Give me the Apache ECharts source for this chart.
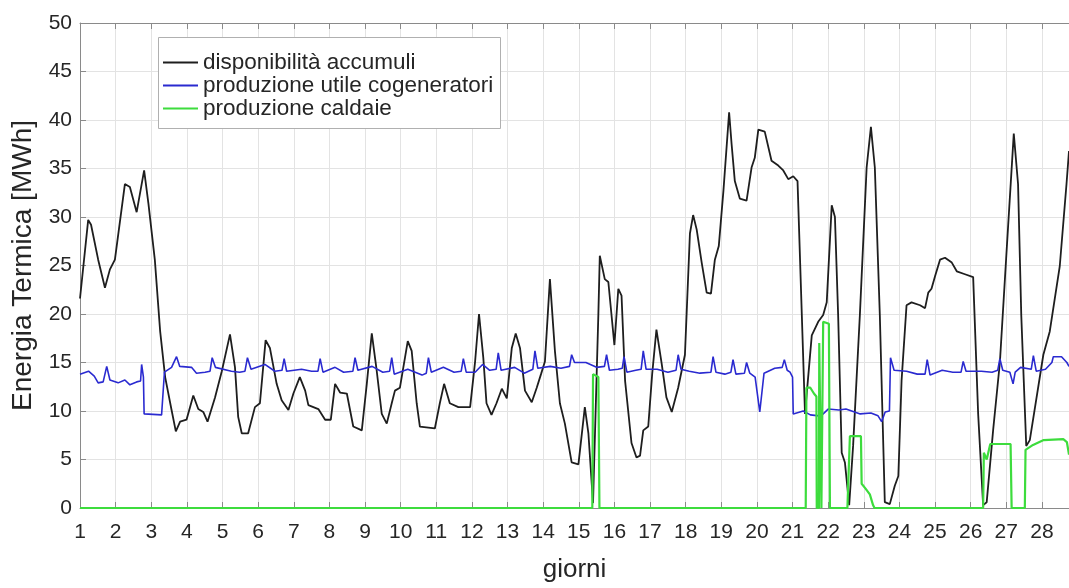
<!DOCTYPE html>
<html>
<head>
<meta charset="utf-8">
<script src="https://cdn.jsdelivr.net/npm/echarts@6/dist/echarts.min.js"></script>
<style>
html,body{margin:0;padding:0;background:#fff;}
#chart{width:1069px;height:588px;}
</style>
</head>
<body>
<div id="chart"></div>
<script>
// ---- data ----
const seriesNames = ["disponibilità accumuli", "produzione utile cogeneratori", "produzione caldaie"];

const accumuliDays = [1.00,1.23,1.31,1.51,1.70,1.84,1.98,2.26,2.40,2.59,2.80,2.92,3.10,3.25,3.39,3.57,3.69,3.81,3.99,4.18,4.32,4.46,4.58,4.79,4.98,5.21,5.35,5.44,5.54,5.72,5.91,6.05,6.21,6.33,6.52,6.66,6.85,6.99,7.17,7.32,7.41,7.69,7.88,8.04,8.16,8.30,8.49,8.67,8.91,9.05,9.19,9.33,9.47,9.61,9.75,9.84,9.98,10.20,10.31,10.45,10.54,10.96,11.10,11.22,11.38,11.62,11.95,12.09,12.20,12.32,12.41,12.55,12.69,12.84,12.98,13.12,13.23,13.35,13.49,13.68,13.82,13.94,14.05,14.19,14.33,14.47,14.61,14.80,14.99,15.03,15.17,15.27,15.40,15.55,15.59,15.73,15.83,16.00,16.11,16.20,16.30,16.48,16.62,16.72,16.81,16.95,17.06,17.18,17.33,17.46,17.61,17.79,17.98,18.12,18.21,18.31,18.45,18.59,18.71,18.82,18.93,19.06,19.22,19.29,19.38,19.52,19.71,19.85,19.94,20.04,20.22,20.41,20.60,20.74,20.88,21.02,21.14,21.35,21.54,21.72,21.86,21.96,22.10,22.19,22.28,22.38,22.47,22.59,22.70,22.89,23.08,23.20,23.31,23.45,23.59,23.73,23.87,23.97,24.06,24.20,24.34,24.58,24.72,24.81,24.90,25.00,25.14,25.28,25.47,25.61,25.84,26.07,26.21,26.35,26.45,26.63,26.82,27.01,27.21,27.33,27.42,27.56,27.66,28.04,28.22,28.50,28.69,28.76];
const accumuliMWh = [21.6,29.7,29.2,25.6,22.7,24.6,25.6,33.4,33.1,30.5,34.8,31.4,25.6,18.2,13.5,10.1,7.9,8.9,9.1,11.6,10.2,9.9,8.9,11.4,14.1,17.9,14.5,9.4,7.7,7.7,10.4,10.8,17.3,16.5,12.8,11.1,10.1,11.8,13.5,12.1,10.6,10.2,9.1,9.1,12.8,11.9,11.8,8.4,8.0,12.8,18.0,14.1,9.7,8.7,10.8,12.1,12.4,17.2,16.2,10.8,8.4,8.2,10.8,12.8,10.8,10.4,10.4,15.1,20.0,15.5,10.8,9.6,10.8,12.3,11.3,16.5,18.0,16.5,12.1,10.9,12.4,13.8,15.1,23.6,16.2,10.8,8.7,4.7,4.5,4.5,10.4,7.7,0.5,20.0,26.0,23.6,23.3,16.8,22.6,21.9,13.1,6.7,5.2,5.4,8.0,8.4,13.8,18.4,14.8,11.4,9.9,12.4,15.8,28.3,30.2,28.7,25.3,22.2,22.1,25.6,27.0,32.7,40.8,37.5,33.7,31.9,31.7,35.1,36.1,39.0,38.8,35.8,35.3,34.8,33.9,34.2,33.7,9.7,17.8,19.2,19.9,21.2,31.2,30.0,19.9,5.7,4.7,0.3,6.4,19.9,35.1,39.3,35.1,19.9,0.6,0.4,2.3,3.3,13.1,20.9,21.2,20.9,20.6,22.2,22.6,23.9,25.6,25.8,25.3,24.4,24.1,23.8,9.7,0.3,0.6,8.0,15.0,26.6,38.6,33.4,19.9,6.4,7.0,15.8,18.2,24.9,33.4,36.8];

const cogenDays = [1.00,1.24,1.40,1.51,1.65,1.75,1.84,2.07,2.26,2.40,2.59,2.70,2.73,2.78,2.80,3.29,3.33,3.37,3.57,3.71,3.80,4.13,4.27,4.51,4.65,4.71,4.80,5.25,5.48,5.63,5.70,5.80,6.19,6.47,6.67,6.73,6.80,7.22,7.50,7.68,7.74,7.82,8.16,8.40,8.66,8.72,8.80,9.20,9.50,9.69,9.75,9.82,10.20,10.60,10.72,10.78,10.86,11.20,11.50,11.70,11.76,11.84,12.09,12.30,12.50,12.68,12.74,12.82,13.20,13.47,13.71,13.77,13.85,14.20,14.50,14.74,14.80,14.88,15.20,15.50,15.72,15.78,15.86,16.10,16.22,16.27,16.35,16.60,16.75,16.81,16.89,17.20,17.50,17.73,17.79,17.87,18.10,18.40,18.71,18.77,18.85,19.10,19.27,19.33,19.41,19.65,19.71,19.80,19.95,20.08,20.20,20.50,20.71,20.77,20.85,20.93,21.00,21.02,21.30,21.50,21.75,21.86,22.00,22.30,22.50,22.90,23.20,23.40,23.50,23.60,23.72,23.75,23.85,24.20,24.50,24.72,24.78,24.86,25.20,25.50,25.73,25.79,25.87,26.30,26.60,26.76,26.82,26.90,27.10,27.19,27.25,27.40,27.70,27.76,27.84,28.10,28.28,28.32,28.55,28.70,28.76];
const cogenMWh = [13.8,14.1,13.6,12.9,13.0,14.6,13.2,12.9,13.2,12.7,13.0,13.1,14.8,13.5,9.7,9.6,9.7,14.0,14.5,15.6,14.6,14.5,13.9,14.0,14.1,15.5,14.5,14.1,14.0,14.1,15.5,14.3,14.8,14.1,14.2,15.4,14.1,14.3,14.1,14.1,15.4,14.0,14.5,14.0,14.1,15.5,14.2,14.6,14.0,14.1,15.5,13.8,14.3,13.7,13.9,15.5,14.0,14.5,14.0,14.1,15.4,14.0,14.0,14.8,14.2,14.3,16.0,14.2,14.5,13.9,14.3,16.2,14.4,14.6,14.4,14.6,15.8,15.0,15.0,14.5,14.6,15.8,14.2,14.3,14.4,15.6,14.0,14.2,14.3,16.2,14.3,14.3,14.0,14.2,15.8,14.3,14.1,13.9,14.0,15.6,14.0,13.8,14.0,15.3,13.8,13.9,15.0,13.9,13.5,9.9,13.9,14.4,14.5,15.3,14.2,14.0,13.5,9.7,10.0,9.6,9.5,9.7,10.2,10.1,10.2,9.7,9.8,9.5,8.9,9.9,10.0,15.5,14.2,14.1,13.8,13.8,15.3,13.7,14.2,14.0,14.0,15.1,14.1,14.1,14.0,14.2,15.4,14.2,14.0,12.8,14.0,14.5,14.3,15.7,14.1,14.3,15.0,15.6,15.6,15.0,14.6];

const caldaieDays = [1.00,15.38,15.40,15.55,15.58,21.37,21.39,21.50,21.60,21.67,21.68,21.74,21.75,21.80,21.81,21.85,21.86,22.02,22.05,22.54,22.61,22.92,22.94,23.05,23.17,23.26,23.30,26.35,26.37,26.45,26.55,27.12,27.15,27.52,27.54,27.75,28.05,28.60,28.70,28.76];
const caldaieMWh = [0,0,13.8,13.5,0,0,12.4,12.4,11.8,11.5,0,0,17.0,17.0,0,0,19.2,19.0,0,0,7.4,7.4,2.5,2.0,1.4,0.3,0,0,5.7,5.0,6.6,6.6,0,0,6.0,6.5,7.0,7.1,6.8,5.5];

const yTicks = [0,5,10,15,20,25,30,35,40,45,50];
const xLabel = "giorni";
const yLabel = "Energia Termica [MWh]";
// --------------------------------------------------

function pairs(xs, ys){ return xs.map((x,i)=>[x, ys[i]]); }

const FONT = "'Liberation Sans', Arial, Helvetica, sans-serif";
const chart = echarts.init(document.getElementById('chart'), null, {renderer:'canvas'});

const axisGray = '#8a8a8a';
const gridGray = '#e3e3e3';
const cBlack = '#1e1e1e', cBlue = '#2a2ad0', cGreen = '#3ddc3d';

chart.setOption({
  animation: false,
  backgroundColor: '#ffffff',
  textStyle: {fontFamily: FONT},
  grid: {left: 80, right: 0, top: 23, bottom: 72, containLabel: false},
  xAxis: [{
    type: 'value', min: 1, max: 28.76, interval: 1,
    name: xLabel, nameLocation: 'middle', nameGap: 49,
    nameTextStyle: {fontSize: 26, color: '#262626', fontFamily: FONT},
    axisLine: {show: true, lineStyle: {color: axisGray, width: 1}},
    axisTick: {show: true, inside: true, length: 6, lineStyle: {color: axisGray}},
    axisLabel: {fontSize: 21, color: '#262626', margin: 14, fontFamily: FONT, showMaxLabel: false},
    splitLine: {show: true, lineStyle: {color: gridGray, width: 1}}
  },{
    type: 'value', position: 'top', min: 1, max: 28.76, interval: 1,
    axisLine: {show: true, onZero: false, lineStyle: {color: axisGray, width: 1}},
    axisTick: {show: true, inside: true, length: 6, lineStyle: {color: axisGray}},
    axisLabel: {show: false},
    splitLine: {show: false}
  }],
  yAxis: {
    type: 'value', min: yTicks[0], max: yTicks[yTicks.length-1], interval: 5,
    name: yLabel, nameLocation: 'middle', nameGap: 43,
    nameTextStyle: {fontSize: 28, color: '#262626', fontFamily: FONT},
    axisLine: {show: true, lineStyle: {color: axisGray, width: 1}},
    axisTick: {show: true, inside: true, length: 6, lineStyle: {color: axisGray}},
    axisLabel: {fontSize: 21, color: '#262626', margin: 8, fontFamily: FONT},
    splitLine: {show: true, lineStyle: {color: gridGray, width: 1}}
  },
  legend: {
    orient: 'vertical', left: 163, top: 51, padding: 0,
    icon: 'rect', itemWidth: 35, itemHeight: 2, itemGap: 0, z: 200,
    textStyle: {fontSize: 22.5, lineHeight: 22.5, color: '#262626', fontFamily: FONT},
    data: seriesNames
  },
  graphic: [{
    type: 'rect', left: 158, top: 37, z: 150,
    shape: {width: 342, height: 91},
    style: {fill: '#ffffff', stroke: '#b0b0b0', lineWidth: 1}
  }],
  series: [
    {name: seriesNames[0], type: 'line', xAxisIndex: 0, data: pairs(accumuliDays, accumuliMWh), symbol: 'none',
     lineStyle: {color: cBlack, width: 1.8}, itemStyle: {color: cBlack}},
    {name: seriesNames[1], type: 'line', xAxisIndex: 0, data: pairs(cogenDays, cogenMWh), symbol: 'none',
     lineStyle: {color: cBlue, width: 1.6}, itemStyle: {color: cBlue}},
    {name: seriesNames[2], type: 'line', xAxisIndex: 0, data: pairs(caldaieDays, caldaieMWh), symbol: 'none',
     lineStyle: {color: cGreen, width: 2.2}, itemStyle: {color: cGreen}}
  ]
});
</script>
</body>
</html>
